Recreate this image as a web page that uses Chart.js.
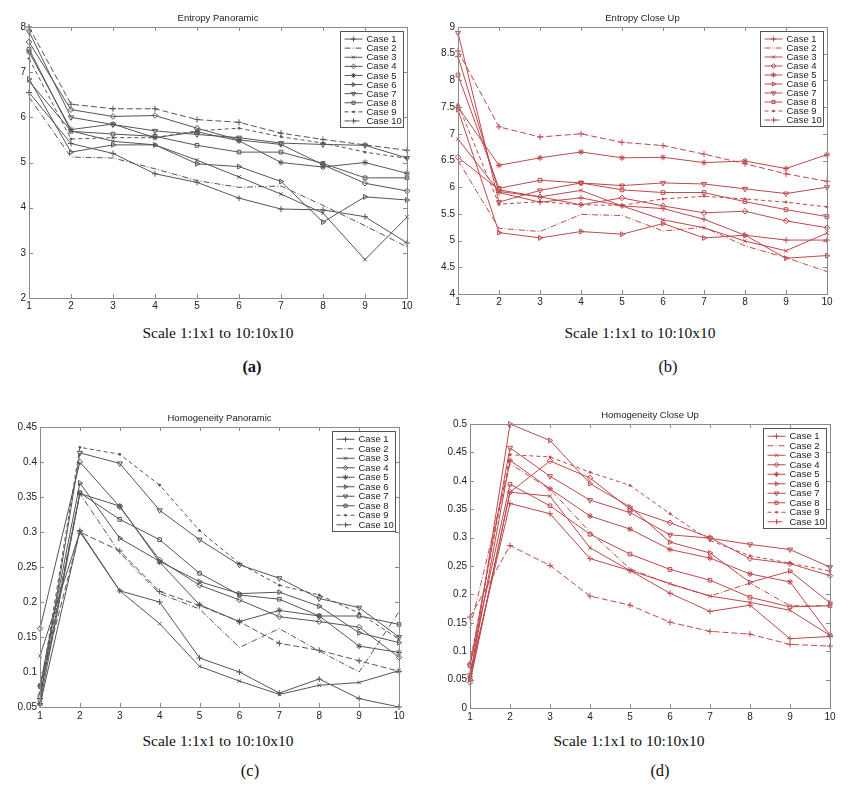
<!DOCTYPE html>
<html>
<head>
<meta charset="utf-8">
<script src="https://cdn.jsdelivr.net/npm/chart.js@4.4.1/dist/chart.umd.min.js"></script>
<style>
  html, body { margin: 0; padding: 0; background: #fff; }
  #page { position: relative; width: 863px; height: 785px; overflow: hidden; }
  canvas { position: absolute; }
  .cap { position: absolute; font-family: "Liberation Serif", "Times New Roman", serif; font-size: 15.5px; color: #111; transform: translate(-50%, -50%); white-space: nowrap; }
</style>
</head>
<body>
<div id="page">
  <canvas id="chartA" width="420" height="320" style="left:0;top:0"></canvas>
  <canvas id="chartB" width="443" height="320" style="left:420px;top:0"></canvas>
  <canvas id="chartC" width="420" height="330" style="left:0;top:395px"></canvas>
  <canvas id="chartD" width="443" height="330" style="left:420px;top:395px"></canvas>

  <div class="cap" style="left:218px;top:333px">Scale 1:1x1 to 10:10x10</div>
  <div class="cap" style="left:252px;top:367px;font-size:16.5px;font-weight:bold">(a)</div>
  <div class="cap" style="left:640px;top:333px">Scale 1:1x1 to 10:10x10</div>
  <div class="cap" style="left:668px;top:367px;font-size:16.5px">(b)</div>
  <div class="cap" style="left:218px;top:741px">Scale 1:1x1 to 10:10x10</div>
  <div class="cap" style="left:250px;top:771px;font-size:16.5px">(c)</div>
  <div class="cap" style="left:629px;top:741px">Scale 1:1x1 to 10:10x10</div>
  <div class="cap" style="left:660px;top:771px;font-size:16.5px">(d)</div>
</div>
<script>
// x categories shared by all four panels
const scales = ['1', '2', '3', '4', '5', '6', '7', '8', '9', '10'];
const caseNames = ['Case 1', 'Case 2', 'Case 3', 'Case 4', 'Case 5', 'Case 6', 'Case 7', 'Case 8', 'Case 9', 'Case 10'];

// (a) Entropy Panoramic
const entropyPanoramic = [
  [6.55, 5.42, 5.20, 4.75, 4.56, 4.21, 3.97, 3.95, 3.80, 3.22],
  [6.45, 5.12, 5.10, 4.86, 4.60, 4.45, 4.48, 4.05, 3.60, 3.13],
  [6.80, 5.70, 5.47, 5.39, 5.05, 4.68, 4.30, 3.88, 2.85, 3.79],
  [7.67, 6.17, 6.02, 6.04, 5.76, 5.50, 5.40, 4.95, 4.54, 4.37],
  [7.45, 5.73, 5.85, 5.55, 5.68, 5.48, 5.00, 4.90, 5.00, 4.76],
  [6.85, 5.23, 5.39, 5.39, 4.97, 4.91, 4.58, 3.68, 4.24, 4.17],
  [7.90, 6.00, 5.84, 5.70, 5.62, 5.55, 5.43, 5.40, 5.38, 5.10],
  [7.51, 5.69, 5.63, 5.58, 5.38, 5.23, 5.23, 4.98, 4.66, 4.66],
  [7.30, 5.52, 5.55, 5.55, 5.70, 5.76, 5.57, 5.43, 5.23, 5.09],
  [8.00, 6.29, 6.19, 6.19, 5.95, 5.89, 5.65, 5.51, 5.39, 5.27]
];

// (b) Entropy Close Up
const entropyCloseUp = [
  [8.45, 5.90, 5.72, 5.80, 5.65, 5.60, 5.40, 5.10, 5.01, 5.01],
  [6.50, 5.23, 5.17, 5.49, 5.47, 5.18, 5.25, 4.90, 4.68, 4.42],
  [6.90, 5.92, 5.82, 5.94, 5.65, 5.39, 5.24, 4.99, 4.81, 5.14],
  [6.56, 5.95, 5.82, 5.67, 5.80, 5.65, 5.52, 5.55, 5.37, 5.24],
  [7.50, 6.41, 6.55, 6.66, 6.55, 6.56, 6.46, 6.49, 6.35, 6.61],
  [7.45, 5.15, 5.05, 5.17, 5.12, 5.32, 5.05, 5.10, 4.67, 4.72],
  [8.89, 5.72, 5.94, 6.08, 6.03, 6.08, 6.06, 5.97, 5.88, 6.00],
  [8.10, 5.98, 6.13, 6.08, 5.95, 5.90, 5.90, 5.73, 5.58, 5.45],
  [7.55, 5.68, 5.73, 5.67, 5.66, 5.78, 5.83, 5.78, 5.72, 5.63],
  [8.55, 7.13, 6.94, 7.00, 6.84, 6.78, 6.62, 6.44, 6.25, 6.11]
];

// (c) Homogeneity Panoramic
const homogeneityPanoramic = [
  [0.053, 0.302, 0.216, 0.200, 0.120, 0.100, 0.070, 0.090, 0.062, 0.050],
  [0.075, 0.355, 0.270, 0.212, 0.190, 0.135, 0.162, 0.130, 0.100, 0.186],
  [0.123, 0.300, 0.216, 0.169, 0.108, 0.087, 0.068, 0.081, 0.085, 0.102],
  [0.162, 0.400, 0.336, 0.260, 0.224, 0.203, 0.179, 0.172, 0.164, 0.121],
  [0.055, 0.355, 0.337, 0.257, 0.196, 0.172, 0.188, 0.180, 0.137, 0.128],
  [0.080, 0.370, 0.291, 0.258, 0.229, 0.212, 0.214, 0.194, 0.156, 0.142],
  [0.060, 0.413, 0.398, 0.331, 0.289, 0.253, 0.234, 0.205, 0.192, 0.150],
  [0.065, 0.356, 0.318, 0.289, 0.241, 0.210, 0.204, 0.180, 0.180, 0.168],
  [0.070, 0.421, 0.411, 0.367, 0.302, 0.255, 0.224, 0.210, 0.184, 0.147],
  [0.080, 0.300, 0.273, 0.215, 0.195, 0.172, 0.141, 0.131, 0.116, 0.101]
];

// (d) Homogeneity Close Up
const homogeneityCloseUp = [
  [0.060, 0.360, 0.342, 0.263, 0.242, 0.202, 0.170, 0.181, 0.122, 0.126],
  [0.140, 0.430, 0.385, 0.310, 0.245, 0.218, 0.197, 0.220, 0.180, 0.180],
  [0.050, 0.380, 0.373, 0.282, 0.242, 0.219, 0.197, 0.186, 0.172, 0.128],
  [0.045, 0.380, 0.435, 0.405, 0.350, 0.326, 0.300, 0.263, 0.254, 0.233],
  [0.055, 0.436, 0.386, 0.338, 0.315, 0.279, 0.264, 0.236, 0.222, 0.128],
  [0.050, 0.500, 0.471, 0.395, 0.354, 0.292, 0.273, 0.221, 0.241, 0.185],
  [0.075, 0.458, 0.408, 0.366, 0.344, 0.305, 0.299, 0.288, 0.279, 0.248],
  [0.075, 0.394, 0.356, 0.306, 0.271, 0.244, 0.225, 0.195, 0.178, 0.180],
  [0.080, 0.446, 0.442, 0.415, 0.392, 0.342, 0.295, 0.268, 0.255, 0.241],
  [0.160, 0.286, 0.251, 0.197, 0.181, 0.151, 0.135, 0.130, 0.112, 0.109]
];

// matlab-ish marker / line style per case
const markerStyles = ['cross', false, 'crossRot', 'rectRot', 'star', 'triangle', 'triangle', 'rect', 'circle', 'cross'];
const markerRotation = [0, 0, 0, 0, 0, 90, 180, 0, 0, 0];
const markerRadius = [3, 0, 2.5, 2.8, 3, 2.8, 3, 2.6, 1, 3];
const lineDashes = [[], [6, 2, 1, 2], [], [], [], [], [], [], [4, 3], [6, 3]];

const FONT = '"Liberation Sans", Arial, sans-serif';
const GRAY = '#555555';
const RED = 'rgb(190, 72, 76)';
const AXIS = '#8a8a8a';

// box, inner tick marks, title and legend drawn straight onto the canvas
const matlabAxes = {
  id: 'matlabAxes',
  afterDraw(chart, args, opts) {
    const { ctx, chartArea: a } = chart;
    const xs = chart.scales.x, ys = chart.scales.y;
    ctx.save();
    ctx.strokeStyle = AXIS;
    ctx.lineWidth = 1;
    ctx.strokeRect(Math.round(a.left) + 0.5, Math.round(a.top) + 0.5, Math.round(a.right - a.left), Math.round(a.bottom - a.top));
    ctx.beginPath();
    xs.ticks.forEach((t, i) => {
      const x = Math.round(xs.getPixelForTick(i)) + 0.5;
      ctx.moveTo(x, a.bottom); ctx.lineTo(x, a.bottom - 4);
      ctx.moveTo(x, a.top); ctx.lineTo(x, a.top + 4);
    });
    ys.ticks.forEach((t, i) => {
      const y = Math.round(ys.getPixelForTick(i)) + 0.5;
      ctx.moveTo(a.left, y); ctx.lineTo(a.left + 4, y);
      ctx.moveTo(a.right, y); ctx.lineTo(a.right - 4, y);
    });
    ctx.stroke();

    // title, centred on the plot box
    ctx.fillStyle = '#222';
    ctx.font = '9.5px ' + FONT;
    ctx.textAlign = 'center';
    ctx.textBaseline = 'middle';
    ctx.fillText(opts.title, (a.left + a.right) / 2, opts.titleY);

    // legend box in the upper right corner
    const rowH = opts.rowH;
    const bw = 63, bh = rowH * chart.data.datasets.length + 5;
    const bx = Math.round(a.right - 4 - bw) + 0.5, by = Math.round(a.top + 4) + 0.5;
    ctx.fillStyle = '#fff';
    ctx.fillRect(bx, by, bw, bh);
    ctx.strokeStyle = '#555';
    ctx.strokeRect(bx, by, bw, bh);
    ctx.textAlign = 'left';
    chart.data.datasets.forEach((ds, i) => {
      const cy = by + 3 + rowH * (i + 0.5);
      ctx.strokeStyle = ds.borderColor;
      ctx.setLineDash(ds.borderDash);
      ctx.beginPath();
      ctx.moveTo(bx + 4, cy); ctx.lineTo(bx + 22, cy);
      ctx.stroke();
      ctx.setLineDash([]);
      if (ds.pointStyle && ds.pointRadius > 0 && Chart.helpers && Chart.helpers.drawPoint) {
        ctx.fillStyle = ds.pointBackgroundColor;
        Chart.helpers.drawPoint(ctx, { pointStyle: ds.pointStyle, rotation: ds.pointRotation, radius: ds.pointRadius * 0.85, borderWidth: 1 }, bx + 13, cy);
      }
      ctx.fillStyle = '#222';
      ctx.fillText(ds.label, bx + 26, cy + 0.5);
    });
    ctx.restore();
  }
};

function makeDatasets(series, color) {
  return series.map((vals, i) => ({
    label: caseNames[i],
    data: vals,
    borderColor: color,
    borderWidth: 1,
    borderDash: lineDashes[i],
    pointStyle: markerStyles[i],
    pointRotation: markerRotation[i],
    pointRadius: markerRadius[i],
    pointBorderColor: color,
    pointBorderWidth: 1,
    pointBackgroundColor: markerStyles[i] === 'circle' ? color : 'rgba(0,0,0,0)',
    tension: 0,
    fill: false,
    clip: false
  }));
}

function drawPanel(id, series, color, p) {
  new Chart(document.getElementById(id), {
    type: 'line',
    data: { labels: scales, datasets: makeDatasets(series, color) },
    options: {
      responsive: false,
      animation: false,
      devicePixelRatio: 1,
      layout: { padding: { left: 0, top: p.top, right: p.right, bottom: 0 } },
      plugins: {
        legend: { display: false },
        tooltip: { enabled: false },
        matlabAxes: { title: p.title, titleY: p.titleY, rowH: p.rowH }
      },
      scales: {
        x: {
          offset: false,
          grid: { display: false, drawTicks: false },
          border: { display: false },
          ticks: { autoSkip: false, maxRotation: 0, padding: p.xPad, color: '#222', font: { family: FONT, size: 10 } },
          afterFit: (axis) => { axis.height = p.bottom; }
        },
        y: {
          min: p.min, max: p.max,
          grid: { display: false, drawTicks: false },
          border: { display: false },
          ticks: {
            stepSize: p.step, padding: 3, color: '#222', font: { family: FONT, size: 10 },
            callback: (v) => String(+v.toFixed(2))
          },
          afterFit: (axis) => { axis.width = p.left; }
        }
      }
    },
    plugins: [matlabAxes]
  });
}

drawPanel('chartA', entropyPanoramic, GRAY, { title: 'Entropy Panoramic', titleY: 18, rowH: 9.1, left: 29, top: 27, right: 13, bottom: 22, xPad: 2, min: 2, max: 8, step: 1 });
drawPanel('chartB', entropyCloseUp, RED, { title: 'Entropy Close Up', titleY: 18, rowH: 9.0, left: 38, top: 27, right: 36, bottom: 26, xPad: 2, min: 4, max: 9, step: 0.5 });
drawPanel('chartC', homogeneityPanoramic, GRAY, { title: 'Homogeneity Panoramic', titleY: 23, rowH: 9.5, left: 40, top: 32, right: 21, bottom: 18, xPad: 3, min: 0.05, max: 0.45, step: 0.05 });
drawPanel('chartD', homogeneityCloseUp, RED, { title: 'Homogeneity Close Up', titleY: 20, rowH: 9.5, left: 50, top: 29, right: 33, bottom: 17, xPad: 3, min: 0, max: 0.5, step: 0.05 });
</script>
</body>
</html>
